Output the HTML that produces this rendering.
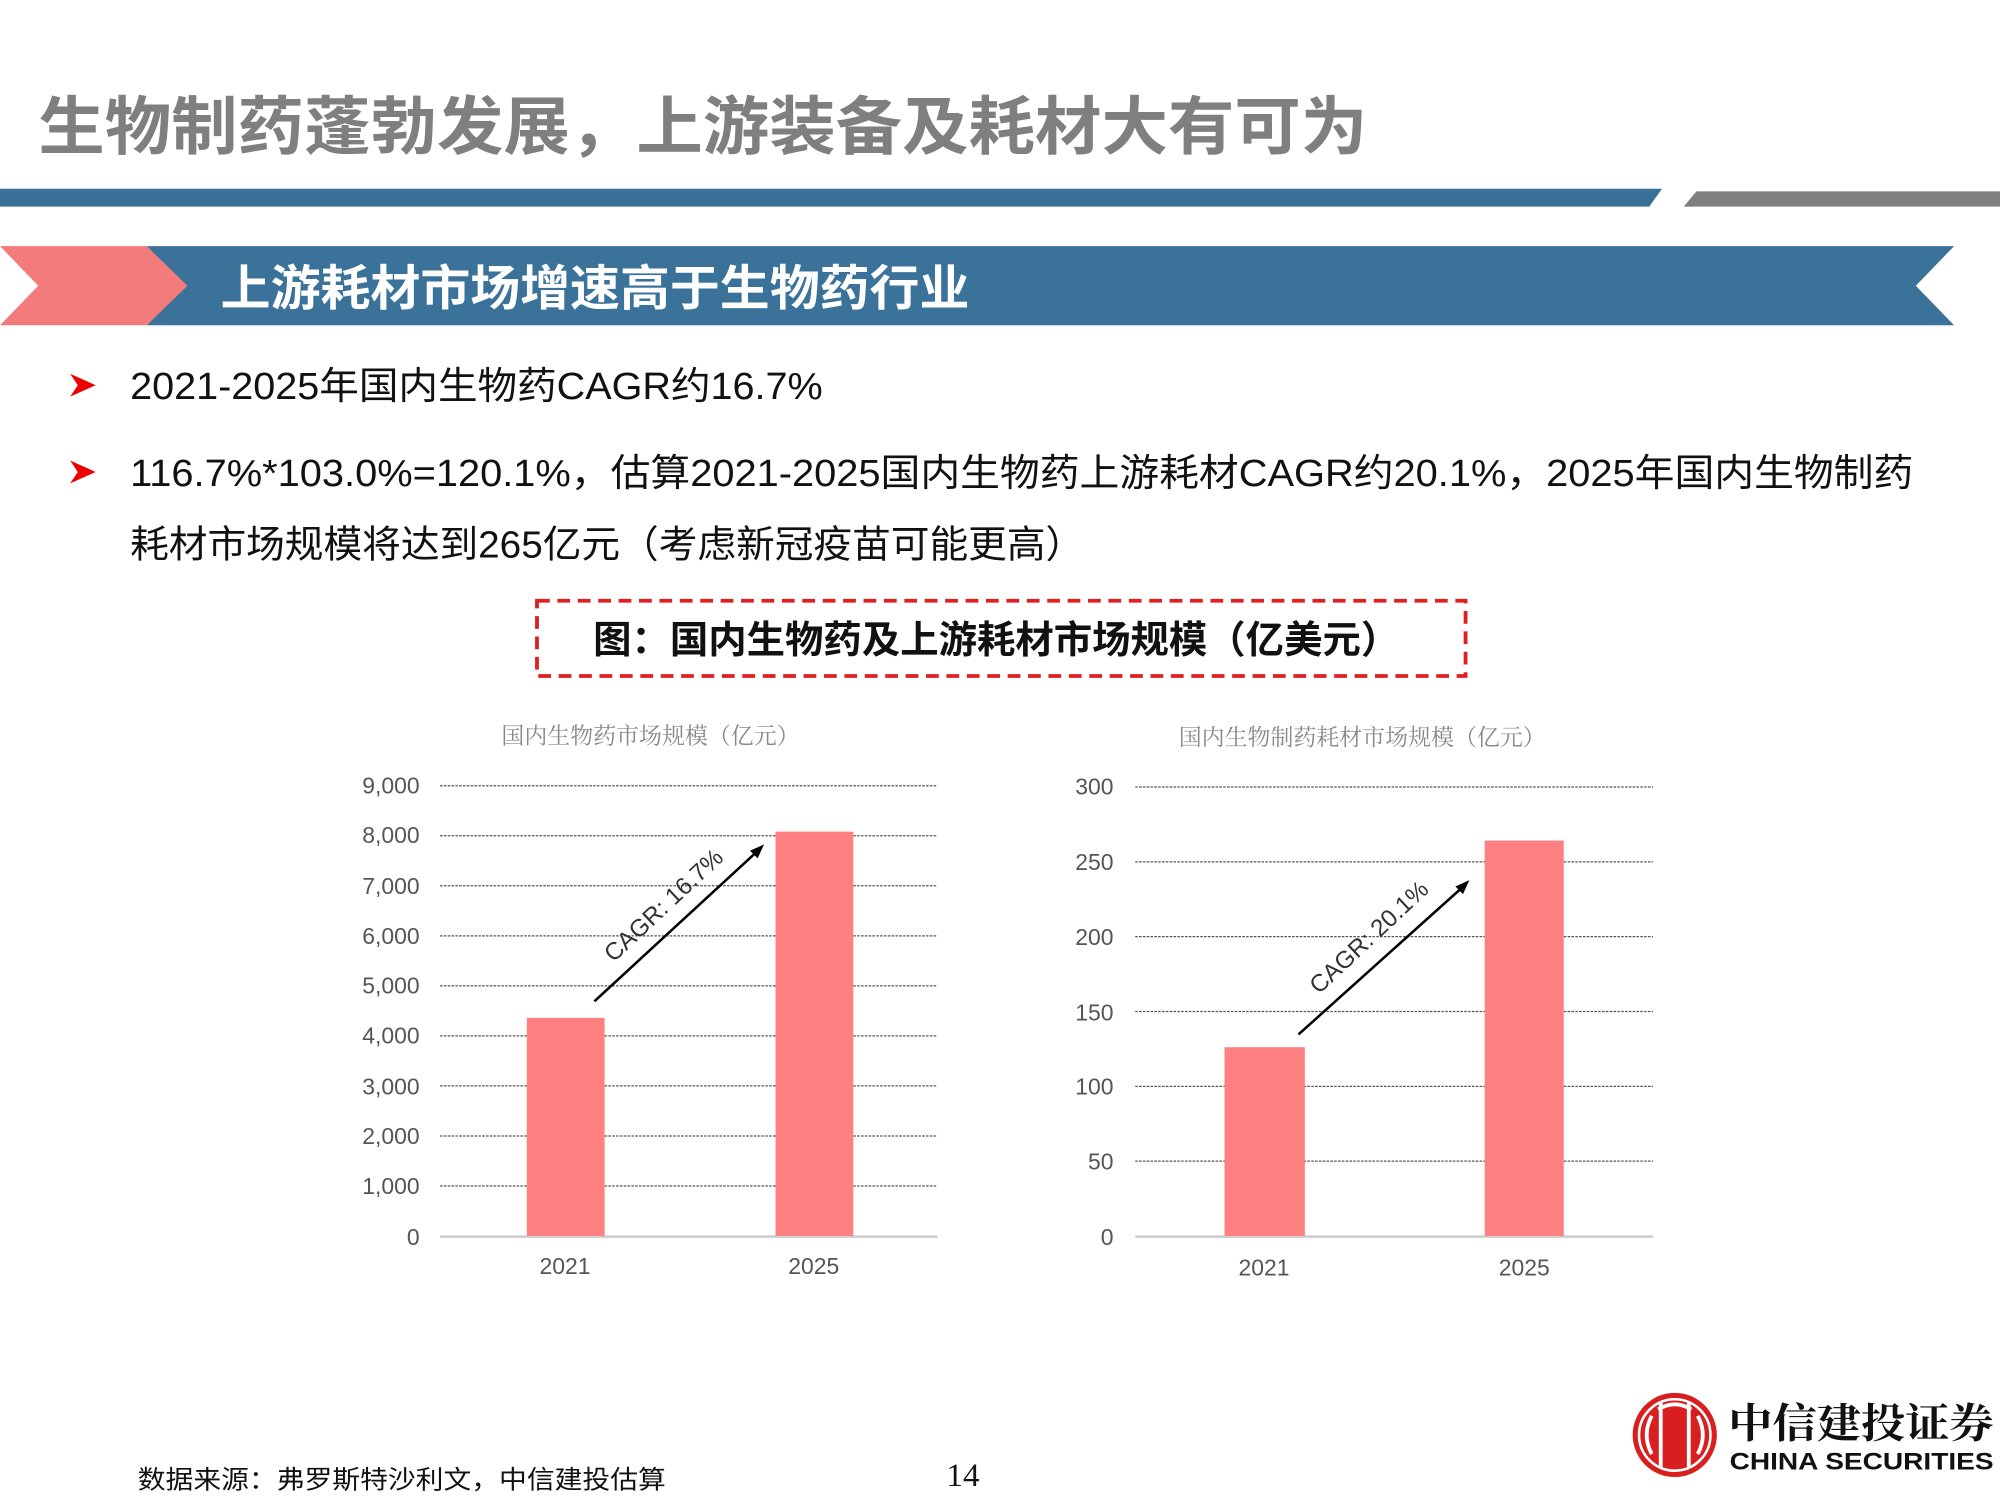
<!DOCTYPE html>
<html><head><meta charset="utf-8"><style>html,body{margin:0;padding:0;background:#fff}svg{display:block}</style></head>
<body>
<svg width="2000" height="1500" viewBox="0 0 1568 1176" xmlns="http://www.w3.org/2000/svg" font-family="'Liberation Sans','Noto Sans CJK SC',sans-serif">
<rect width="1568" height="1176" fill="#fff"/>
<text x="30" y="117" font-size="50" font-weight="bold" fill="#7f7f7f" textLength="1042" lengthAdjust="spacingAndGlyphs">生物制药蓬勃发展，上游装备及耗材大有可为</text>
<polygon points="0,148 1303,148 1293,162 0,162" fill="#3a6f98"/>
<polygon points="1330,150 1568,150 1568,162 1320,162" fill="#7f7f7f"/>
<polygon points="115,193 1532,193 1502,224 1532,255 115,255 145,224" fill="#3a729a"/>
<polygon points="0,193 115,193 147,224 115,255 0,255 30,224" fill="#f47b7b"/>
<text x="173" y="239" font-size="38" font-weight="bold" fill="#fff" textLength="587" lengthAdjust="spacingAndGlyphs">上游耗材市场增速高于生物药行业</text>
<g fill="#e00"><polygon points="55,293 75,302 55,311 61,302"/><polygon points="55,361 75,370 55,379 61,370"/></g>
<g font-size="30" fill="#111">
<text x="102" y="313" textLength="543" lengthAdjust="spacingAndGlyphs">2021-2025年国内生物药CAGR约16.7%</text>
<text x="102" y="381" textLength="1398" lengthAdjust="spacingAndGlyphs">116.7%*103.0%=120.1%，估算2021-2025国内生物药上游耗材CAGR约20.1%，2025年国内生物制药</text>
<text x="102" y="437" textLength="748" lengthAdjust="spacingAndGlyphs">耗材市场规模将达到265亿元（考虑新冠疫苗可能更高）</text>
</g>
<rect x="421" y="471" width="728" height="59" fill="none" stroke="#e02020" stroke-width="3" stroke-dasharray="10,6"/>
<text x="465" y="512" font-size="30" font-weight="bold" fill="#111" textLength="632" lengthAdjust="spacingAndGlyphs">图：国内生物药及上游耗材市场规模（亿美元）</text>
<!-- left chart -->
<text x="510" y="583" font-size="18" fill="#888" text-anchor="middle" font-family="'Noto Serif CJK SC',serif">国内生物药市场规模（亿元）</text>
<g stroke="#555" stroke-width="1" stroke-dasharray="2,1">
<line x1="345" x2="735" y1="616" y2="616"/><line x1="345" x2="735" y1="655.2" y2="655.2"/><line x1="345" x2="735" y1="694.4" y2="694.4"/><line x1="345" x2="735" y1="733.7" y2="733.7"/><line x1="345" x2="735" y1="772.9" y2="772.9"/><line x1="345" x2="735" y1="812.1" y2="812.1"/><line x1="345" x2="735" y1="851.3" y2="851.3"/><line x1="345" x2="735" y1="890.6" y2="890.6"/><line x1="345" x2="735" y1="929.8" y2="929.8"/>
</g>
<line x1="345" x2="735" y1="969.5" y2="969.5" stroke="#ccc" stroke-width="2"/>
<g font-size="18" fill="#555" text-anchor="end">
<text x="329" y="622">9,000</text><text x="329" y="661">8,000</text><text x="329" y="701">7,000</text><text x="329" y="740">6,000</text><text x="329" y="779">5,000</text><text x="329" y="818">4,000</text><text x="329" y="858">3,000</text><text x="329" y="897">2,000</text><text x="329" y="936">1,000</text><text x="329" y="976">0</text>
</g>
<rect x="413" y="798" width="61" height="171" fill="#ff8080"/>
<rect x="608" y="652" width="61" height="317" fill="#ff8080"/>
<g font-size="18" fill="#555" text-anchor="middle"><text x="443" y="999">2021</text><text x="638" y="999">2025</text></g>
<line x1="466" y1="785" x2="592" y2="669" stroke="#000" stroke-width="2"/>
<polygon points="599,662 588,667 594,673" fill="#000"/>
<text x="0" y="0" font-size="19" fill="#333" transform="translate(481,755) rotate(-43)">CAGR: 16.7%</text>
<!-- right chart -->
<text x="1068" y="584" font-size="18" fill="#888" text-anchor="middle" font-family="'Noto Serif CJK SC',serif">国内生物制药耗材市场规模（亿元）</text>
<g stroke="#555" stroke-width="1" stroke-dasharray="2,1">
<line x1="890" x2="1296" y1="617" y2="617"/><line x1="890" x2="1296" y1="675.7" y2="675.7"/><line x1="890" x2="1296" y1="734.3" y2="734.3"/><line x1="890" x2="1296" y1="793" y2="793"/><line x1="890" x2="1296" y1="851.7" y2="851.7"/><line x1="890" x2="1296" y1="910.3" y2="910.3"/>
</g>
<line x1="890" x2="1296" y1="969.5" y2="969.5" stroke="#ccc" stroke-width="2"/>
<g font-size="18" fill="#555" text-anchor="end">
<text x="873" y="623">300</text><text x="873" y="682">250</text><text x="873" y="741">200</text><text x="873" y="800">150</text><text x="873" y="858">100</text><text x="873" y="917">50</text><text x="873" y="976">0</text>
</g>
<rect x="960" y="821" width="63" height="148" fill="#ff8080"/>
<rect x="1164" y="659" width="62" height="310" fill="#ff8080"/>
<g font-size="18" fill="#555" text-anchor="middle"><text x="991" y="1000">2021</text><text x="1195" y="1000">2025</text></g>
<line x1="1018" y1="811" x2="1145" y2="697" stroke="#000" stroke-width="2"/>
<polygon points="1152,690 1141,695 1147,701" fill="#000"/>
<text x="0" y="0" font-size="19" fill="#333" transform="translate(1034,780) rotate(-43)">CAGR: 20.1%</text>
<!-- footer -->
<text x="108" y="1167" font-size="20" fill="#111" textLength="414" lengthAdjust="spacingAndGlyphs">数据来源：弗罗斯特沙利文，中信建投估算</text>
<text x="755" y="1165" font-size="26" fill="#111" text-anchor="middle" font-family="'Liberation Serif',serif">14</text>
<circle cx="1313" cy="1125" r="33" fill="#d81e1e"/>
<circle cx="1313" cy="1125" r="28" fill="none" stroke="#fff" stroke-width="2"/>
<g stroke="#fff" stroke-width="3" fill="none"><path d="M1302,1100 v50 M1324,1100 v50 M1295,1110 q-8,15 0,30 M1331,1110 q8,15 0,30 M1300,1105 q13,-8 26,0"/></g>
<text x="1355" y="1127" font-size="32" font-weight="bold" fill="#111" font-family="'Noto Serif CJK SC',serif" textLength="208" lengthAdjust="spacingAndGlyphs">中信建投证券</text>
<text x="1356" y="1152" font-size="19" font-weight="bold" fill="#111" textLength="207" lengthAdjust="spacingAndGlyphs">CHINA SECURITIES</text>
</svg>
</body></html>
